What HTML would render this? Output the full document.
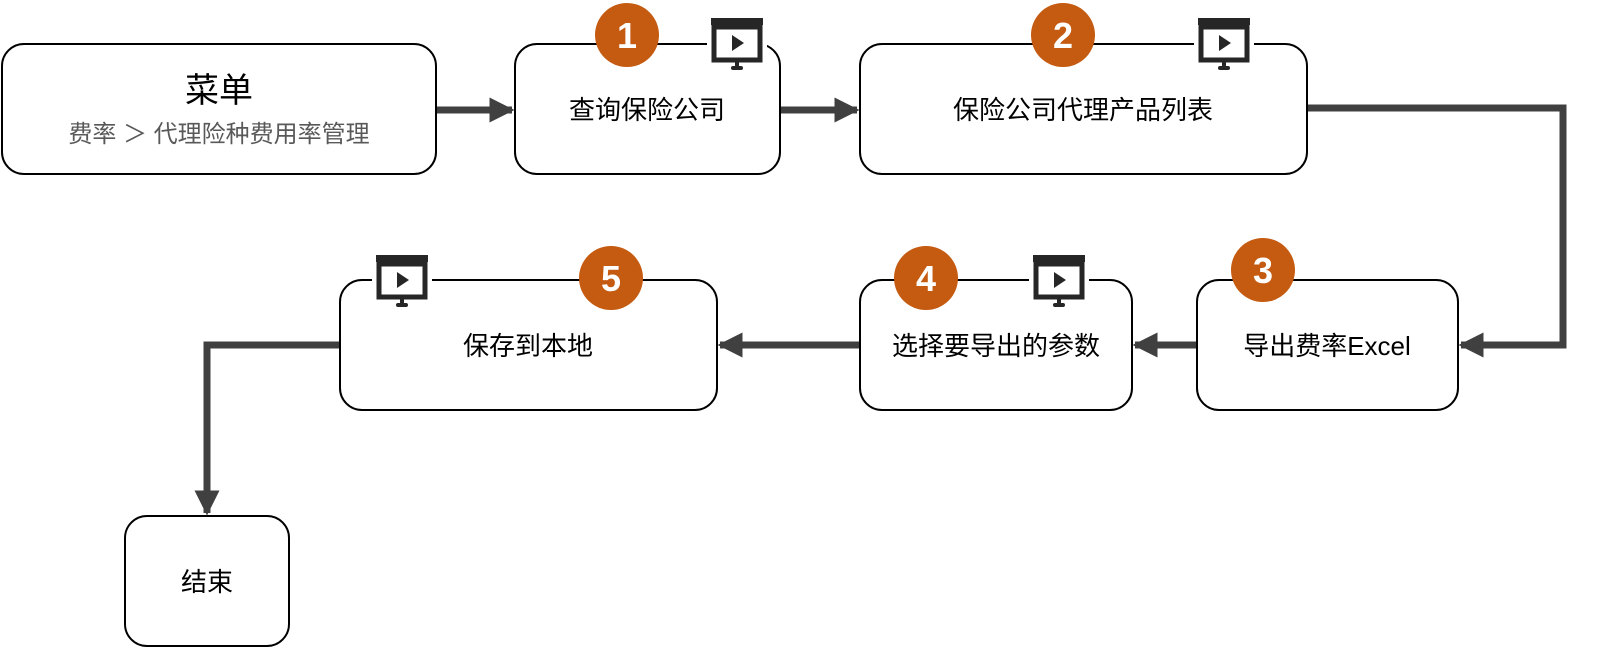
<!DOCTYPE html>
<html><head><meta charset="utf-8"><style>
body{margin:0;background:#fff}
text{font-family:"Liberation Sans","Noto Sans CJK SC",sans-serif}
</style></head><body>
<svg width="1608" height="665" viewBox="0 0 1608 665" xmlns="http://www.w3.org/2000/svg">
<defs>
<marker id="a" viewBox="0 0 10 10" refX="9" refY="5" markerWidth="3.6" markerHeight="3.6" orient="auto" markerUnits="strokeWidth"><path d="M0,0L10,5L0,10z" fill="#404040"/></marker>
<g id="ic">
<rect x="-4" y="-2" width="60" height="56" fill="#fff"/>
<rect x="0" y="0" width="52" height="7" fill="#262626"/>
<rect x="3" y="9" width="46" height="33" fill="#fff" stroke="#262626" stroke-width="5"/>
<path d="M21,17L33,25L21,33z" fill="#262626"/>
<rect x="24" y="44" width="4" height="5" fill="#262626"/>
<rect x="20" y="48" width="12" height="4" rx="2" fill="#262626"/>
</g>
</defs>
<g fill="none" stroke="#404040" stroke-width="7">
<path d="M436,110H512" marker-end="url(#a)"/>
<path d="M780,110H857" marker-end="url(#a)"/>
<path d="M1307,108H1563V345H1461" marker-end="url(#a)"/>
<path d="M1197,345H1135" marker-end="url(#a)"/>
<path d="M860,345H720" marker-end="url(#a)"/>
<path d="M340,345H207V513" marker-end="url(#a)"/>
</g>
<g fill="#fff" stroke="#000" stroke-width="2">
<rect x="2" y="44" width="434" height="130" rx="22"/>
<rect x="515" y="44" width="265" height="130" rx="22"/>
<rect x="860" y="44" width="447" height="130" rx="22"/>
<rect x="1197" y="280" width="261" height="130" rx="22"/>
<rect x="860" y="280" width="272" height="130" rx="22"/>
<rect x="340" y="280" width="377" height="130" rx="22"/>
<rect x="125" y="516" width="164" height="130" rx="22"/>
</g>
<use href="#ic" x="711" y="18"/>
<use href="#ic" x="1198" y="18"/>
<use href="#ic" x="1033" y="255"/>
<use href="#ic" x="376" y="255"/>
<g fill="#c55a11">
<circle cx="627" cy="35" r="32"/><circle cx="1063" cy="35" r="32"/>
<circle cx="1263" cy="270" r="32"/><circle cx="926" cy="278" r="32"/><circle cx="611" cy="278" r="32"/>
</g>
<g fill="#fff" font-size="36" font-weight="bold" text-anchor="middle">
<text x="627" y="48">1</text><text x="1063" y="48">2</text><text x="1263" y="283">3</text><text x="926" y="291">4</text><text x="611" y="291">5</text>
</g>
<g font-size="26" text-anchor="middle" fill="#000">
<text x="219" y="102" font-size="34">菜单</text>
<text x="219" y="142" font-size="24" fill="#595959">费率 ＞ 代理险种费用率管理</text>
<text x="647" y="119">查询保险公司</text>
<text x="1083" y="119">保险公司代理产品列表</text>
<text x="1327" y="355">导出费率Excel</text>
<text x="996" y="355">选择要导出的参数</text>
<text x="528" y="355">保存到本地</text>
<text x="207" y="591">结束</text>
</g>
</svg>
</body></html>
